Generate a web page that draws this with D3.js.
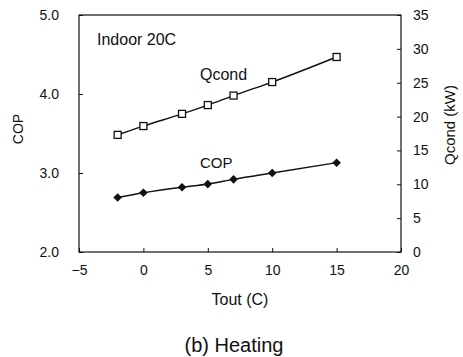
<!DOCTYPE html>
<html>
<head>
<meta charset="utf-8">
<script src="https://cdn.jsdelivr.net/npm/d3@7"></script>
<style>
  body { margin: 0; background: #fff; }
  text { font-family: "Liberation Sans", Arial, sans-serif; fill: #111; }
</style>
</head>
<body>
<svg id="chart" width="463" height="357"></svg>
<script>
// data
const tout = [-2, 0, 3, 5, 7, 10, 15];
const cop = [2.69, 2.75, 2.82, 2.86, 2.92, 3.0, 3.13];
const qcond = [17.3, 18.6, 20.4, 21.7, 23.1, 25.1, 28.8];
const xTicks = [-5, 0, 5, 10, 15, 20];
const copTicks = [2.0, 3.0, 4.0, 5.0];
const qTicks = [0, 5, 10, 15, 20, 25, 30, 35];

const margin = { top: 15, right: 62, bottom: 105, left: 79 };
const width = 463, height = 357;
const svg = d3.select("#chart");

const x = d3.scaleLinear().domain([-5, 20]).range([margin.left, width - margin.right]);
const yCop = d3.scaleLinear().domain([2, 5]).range([height - margin.bottom, margin.top]);
const yQ = d3.scaleLinear().domain([0, 35]).range([height - margin.bottom, margin.top]);

const fmtX = d => d < 0 ? "\u2212" + Math.abs(d) : d;

// frame
svg.append("rect")
    .attr("x", margin.left).attr("y", margin.top)
    .attr("width", x(20) - x(-5)).attr("height", yCop(2) - yCop(5))
    .attr("fill", "none").attr("stroke", "#111").attr("stroke-width", 1.2);

// axes with inward ticks
const bottom = svg.append("g")
    .attr("transform", `translate(0,${height - margin.bottom})`)
    .call(d3.axisBottom(x).tickValues(xTicks).tickSizeInner(-4).tickSizeOuter(0).tickPadding(13).tickFormat(fmtX));
const left = svg.append("g")
    .attr("transform", `translate(${margin.left},0)`)
    .call(d3.axisLeft(yCop).tickValues(copTicks).tickSizeInner(-4).tickSizeOuter(0).tickPadding(20).tickFormat(d3.format(".1f")));
const right = svg.append("g")
    .attr("transform", `translate(${width - margin.right},0)`)
    .call(d3.axisRight(yQ).tickValues(qTicks).tickSizeInner(-4).tickSizeOuter(0).tickPadding(12));

[bottom, left, right].forEach(g => {
  g.select(".domain").remove();
  g.selectAll("line").attr("stroke", "#111");
  g.selectAll("text").attr("font-size", 14).style("font-family", "Liberation Sans, Arial, sans-serif").attr("fill", "#111");
});

// lines
const copLine = d3.line().x((d, i) => x(tout[i])).y(d => yCop(d)).curve(d3.curveMonotoneX);
const qLine = d3.line().x((d, i) => x(tout[i])).y(d => yQ(d)).curve(d3.curveMonotoneX);

svg.append("path").datum(qcond).attr("d", qLine)
    .attr("fill", "none").attr("stroke", "#111").attr("stroke-width", 1.4);
svg.append("path").datum(cop).attr("d", copLine)
    .attr("fill", "none").attr("stroke", "#111").attr("stroke-width", 1.4);

// markers
svg.selectAll(".sq").data(qcond).enter().append("rect")
    .attr("x", (d, i) => x(tout[i]) - 3.5)
    .attr("y", d => yQ(d) - 3.5)
    .attr("width", 7).attr("height", 7)
    .attr("fill", "#fff").attr("stroke", "#111").attr("stroke-width", 1.3);

svg.selectAll(".dm").data(cop).enter().append("path")
    .attr("d", d3.symbol(d3.symbolDiamond2, 48))
    .attr("transform", (d, i) => `translate(${x(tout[i])},${yCop(d)})`)
    .attr("fill", "#111");

// annotations
svg.append("text").attr("x", 97).attr("y", 45).attr("font-size", 16).text("Indoor 20C");
svg.append("text").attr("x", 200).attr("y", 80).attr("font-size", 16).text("Qcond");
svg.append("text").attr("x", 200).attr("y", 168).attr("font-size", 15).text("COP");

// axis titles
svg.append("text").attr("x", x(7.5)).attr("y", 305).attr("text-anchor", "middle")
    .attr("font-size", 16).text("Tout (C)");
svg.append("text").attr("transform", "translate(23,129) rotate(-90)")
    .attr("text-anchor", "middle").attr("font-size", 14).text("COP");
svg.append("text").attr("transform", "translate(455,125) rotate(-90)")
    .attr("text-anchor", "middle").attr("font-size", 15).text("Qcond (kW)");

svg.append("text").attr("x", 234).attr("y", 352).attr("text-anchor", "middle")
    .attr("font-size", 20).text("(b) Heating");
</script>
</body>
</html>
